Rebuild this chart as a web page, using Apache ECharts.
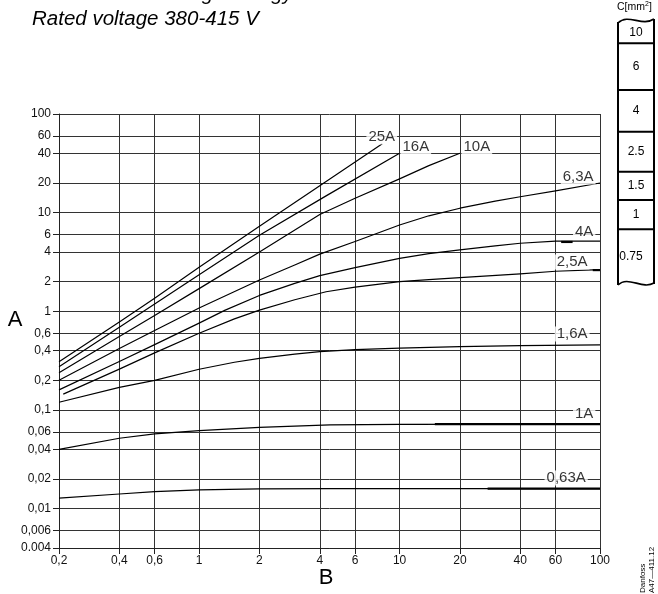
<!DOCTYPE html>
<html><head><meta charset="utf-8">
<script src="https://cdn.jsdelivr.net/npm/echarts@6/dist/echarts.min.js"></script>
<style>html,body{margin:0;padding:0;background:#fff}#c{width:658px;height:594px}</style>
</head><body><div id="c"></div>
<script>
// ---- tick values and labels ----
const xTicks = [0.2, 0.4, 0.6, 1, 2, 4, 6, 10, 20, 40, 60, 100];
const xTickLabels = ['0,2', '0,4', '0,6', '1', '2', '4', '6', '10', '20', '40', '60', '100'];
const yTicks = [100, 60, 40, 20, 10, 6, 4, 2, 1, 0.6, 0.4, 0.2, 0.1, 0.06, 0.04, 0.02, 0.01, 0.006, 0.004];
const yTickLabels = ['100', '60', '40', '20', '10', '6', '4', '2', '1', '0,6', '0,4', '0,2', '0,1', '0,06', '0,04', '0,02', '0,01', '0,006', '0.004'];

// ---- curves [B, A] ----
const curve25A = [[0.2, 0.309], [0.4, 0.78], [0.6, 1.36], [1, 2.8], [2, 7.3], [4, 18.8], [8.2, 50]];
const curve16A = [[0.2, 0.275], [0.4, 0.69], [0.6, 1.19], [1, 2.35], [2, 5.9], [4.3, 14.8], [10, 40]];
const curve10A = [[0.2, 0.239], [0.4, 0.555], [0.6, 0.91], [1, 1.7], [2, 4.0], [4, 9.6], [6, 14], [10, 22], [14, 30], [20, 40]];
const curve6_3A = [[0.2, 0.2], [0.4, 0.42], [0.6, 0.64], [1, 1.08], [2, 2.08], [3, 2.95], [4, 3.8], [6, 5.1], [10, 7.5], [14, 9.3], [20, 11.1], [30, 13.1], [40, 14.5], [60, 16.6], [100, 20]];
const curve4A = [[0.2, 0.16], [0.4, 0.31], [0.6, 0.46], [1, 0.76], [1.35, 1.03], [2, 1.45], [3, 1.92], [4, 2.3], [6, 2.78], [10, 3.45], [14, 3.85], [20, 4.2], [30, 4.6], [40, 4.9], [60, 5.15], [100, 5.15]];
const curve2_5A = [[0.21, 0.145], [0.4, 0.26], [0.6, 0.38], [1, 0.6], [1.5, 0.84], [2, 1.03], [3, 1.31], [4.3, 1.58], [6, 1.76], [10, 2.0], [14, 2.1], [20, 2.2], [40, 2.4], [60, 2.55], [100, 2.65]];
const curve1_6A = [[0.2, 0.12], [0.4, 0.17], [0.6, 0.2], [1, 0.259], [1.5, 0.305], [2, 0.334], [3, 0.368], [4, 0.391], [6, 0.41], [10, 0.425], [20, 0.44], [40, 0.45], [100, 0.457]];
const curve1A = [[0.2, 0.04], [0.4, 0.0518], [0.6, 0.0573], [1, 0.0618], [2, 0.0668], [4.5, 0.0706], [10, 0.0715], [100, 0.072]];
const curve0_63A = [[0.2, 0.0128], [0.4, 0.0141], [0.6, 0.0149], [1, 0.0155], [2, 0.0159], [4.5, 0.016], [100, 0.016]];

// heavier overdrawn pieces seen on the original
const heavy1A = [[15, 0.072], [100, 0.072]];
const heavy0_63A = [[27.5, 0.016], [100, 0.016]];
const heavy4A = [[64, 5.05], [73, 5.05]];
const heavy2_5A = [[92, 2.62], [100, 2.62]];

// ---- curve labels ----
const curveNames = ['25A', '16A', '10A', '6,3A', '4A', '2,5A', '1,6A', '1A', '0,63A'];
const labelB = [8.15, 12.05, 24.3, 77.8, 83.4, 72.6, 72.6, 83.4, 67.8];
const labelA = [58.5, 46.3, 46.3, 23.0, 6.37, 3.16, 0.59, 0.0912, 0.0205];

// ---- cross-section strip ----
const stripTitle = 'C[mm';
const stripLabels = ['10', '6', '4', '2.5', '1.5', '1', '0.75'];

const FONT = 'Liberation Sans, Arial, Helvetica, sans-serif';
function fmt(ticks, labels) {
  return function (v) {
    for (let i = 0; i < ticks.length; i++) {
      if (Math.abs(Math.log10(ticks[i]) - Math.log10(v)) < 1e-6) return labels[i];
    }
    return '';
  };
}

const curves = [curve25A, curve16A, curve10A, curve6_3A, curve4A, curve2_5A, curve1_6A, curve1A, curve0_63A];
const series = curves.map((d, i) => ({
  type: 'line', name: curveNames[i], data: d, smooth: false,
  symbol: 'none', silent: true, z: 3,
  lineStyle: { color: '#000', width: 1.2, join: 'round' }
}));
[heavy1A, heavy0_63A, heavy4A, heavy2_5A].forEach(d => series.push({
  type: 'line', data: d, symbol: 'none', silent: true, z: 4,
  lineStyle: { color: '#000', width: 2.2 }
}));
series.push({
  type: 'scatter', silent: true, z: 10, symbolSize: 1,
  itemStyle: { color: 'rgba(0,0,0,0)' },
  data: labelB.map((b, i) => ({ value: [b, labelA[i]], name: curveNames[i] })),
  label: {
    show: true, position: 'inside', formatter: '{b}', color: '#000',
    fontSize: 15, fontFamily: FONT, backgroundColor: '#fff', padding: [0, 2]
  }
});

// strip graphic
const SX0 = 618, SX1 = 654;
const sepY = [43.3, 90, 131.7, 171.7, 200, 229.3];
const labY = [33, 67, 111, 152, 186, 215, 257];
const graphics = [];
graphics.push({ type: 'line', shape: { x1: SX0, y1: 22, x2: SX0, y2: 285 }, style: { stroke: '#000', lineWidth: 2 } });
graphics.push({ type: 'line', shape: { x1: SX1, y1: 19, x2: SX1, y2: 284 }, style: { stroke: '#000', lineWidth: 2 } });
graphics.push({ type: 'bezierCurve', shape: { x1: SX0, y1: 23, cpx1: 628, cpy1: 13, cpx2: 642, cpy2: 27, x2: SX1, y2: 19 }, style: { stroke: '#000', lineWidth: 1.6, fill: null } });
graphics.push({ type: 'bezierCurve', shape: { x1: SX0, y1: 285, cpx1: 628, cpy1: 275, cpx2: 642, cpy2: 290, x2: SX1, y2: 283 }, style: { stroke: '#000', lineWidth: 1.6, fill: null } });
sepY.forEach(y => graphics.push({ type: 'line', shape: { x1: SX0, y1: y, x2: SX1, y2: y }, style: { stroke: '#000', lineWidth: 2 } }));
stripLabels.forEach((t, i) => graphics.push({
  type: 'text', x: i === stripLabels.length - 1 ? 631 : 636, y: labY[i],
  style: { text: t, fill: '#000', font: '12px ' + FONT, align: 'center', verticalAlign: 'middle' }
}));
graphics.push({
  type: 'text', x: 617, y: 7,
  style: { text: stripTitle + '{s|2}]', fill: '#000', font: '10.5px ' + FONT, verticalAlign: 'middle',
    rich: { s: { fontSize: 7, verticalAlign: 'top', padding: [0, 0, 6, 0], fontFamily: FONT } } }
});
// title
graphics.push({ type: 'text', x: 32, y: -5.5, style: { text: 'Maximum let-through energy', fill: '#000', font: 'italic 20.5px ' + FONT, verticalAlign: 'middle' } });
graphics.push({ type: 'text', x: 32, y: 19.5, style: { text: 'Rated voltage 380-415 V', fill: '#000', font: 'italic 20.5px ' + FONT, verticalAlign: 'middle' } });
// axis names
graphics.push({ type: 'text', x: 15, y: 320, style: { text: 'A', fill: '#000', font: '22px ' + FONT, align: 'center', verticalAlign: 'middle' } });
graphics.push({ type: 'text', x: 326, y: 578, style: { text: 'B', fill: '#000', font: '22px ' + FONT, align: 'center', verticalAlign: 'middle' } });
// reference code
graphics.push({ type: 'text', x: 643, y: 593, rotation: Math.PI / 2, style: { text: 'Danfoss', fill: '#000', font: '8px ' + FONT, align: 'left', verticalAlign: 'middle' } });
graphics.push({ type: 'text', x: 651.5, y: 593, rotation: Math.PI / 2, style: { text: 'A47\u2014411.12', fill: '#000', font: '8px ' + FONT, align: 'left', verticalAlign: 'middle' } });

const axisCommon = {
  type: 'log', logBase: 10,
  axisLine: { show: true, lineStyle: { color: '#222', width: 1 } },
  splitLine: { show: true, lineStyle: { color: '#333', width: 1 } },
  minorTick: { show: false }, minorSplitLine: { show: false }
};

const option = {
  animation: false,
  backgroundColor: '#fff',
  grid: { left: 59, right: 58, top: 114, bottom: 46 },
  xAxis: Object.assign({}, axisCommon, {
    min: 0.2, max: 100,
    axisTick: { show: true, customValues: xTicks, length: 6, lineStyle: { color: '#222' } },
    axisLabel: { customValues: xTicks, formatter: fmt(xTicks, xTickLabels), color: '#111', fontSize: 12, fontFamily: FONT, margin: 7 }
  }),
  yAxis: Object.assign({}, axisCommon, {
    min: 0.004, max: 100,
    axisTick: { show: true, customValues: yTicks, length: 6, lineStyle: { color: '#222' } },
    axisLabel: { customValues: yTicks, formatter: fmt(yTicks, yTickLabels), color: '#111', fontSize: 12, fontFamily: FONT, margin: 8 }
  }),
  graphic: graphics,
  series: series
};
const chart = echarts.init(document.getElementById('c'));
chart.setOption(option);
</script>
</body></html>
